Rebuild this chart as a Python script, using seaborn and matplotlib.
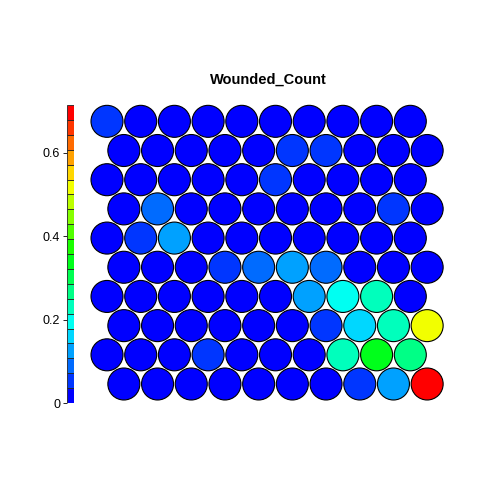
import matplotlib
matplotlib.use('Agg')
import matplotlib.pyplot as plt
import matplotlib.colors as mcolors
import seaborn as sns
import numpy as np
import pandas as pd

# SOM property values, one list per map row (top row first)
row10 = [0.05, 0, 0, 0, 0, 0, 0, 0, 0, 0]
row9 = [0, 0, 0, 0, 0, 0.05, 0.05, 0, 0, 0]
row8 = [0, 0, 0, 0, 0, 0.05, 0, 0, 0, 0]
row7 = [0, 0.09, 0, 0, 0, 0, 0, 0, 0.05, 0]
row6 = [0, 0.05, 0.12, 0, 0, 0, 0, 0, 0, 0]
row5 = [0, 0, 0, 0.05, 0.09, 0.12, 0.09, 0, 0, 0]
row4 = [0, 0, 0, 0, 0, 0, 0.12, 0.19, 0.23, 0]
row3 = [0, 0, 0, 0, 0, 0, 0.05, 0.16, 0.23, 0.51]
row2 = [0, 0, 0, 0.05, 0, 0, 0, 0.23, 0.33, 0.26]
row1 = [0, 0, 0, 0, 0, 0, 0, 0.05, 0.12, 0.714]
colorbar_ticks = [0, 0.2, 0.4, 0.6]
title = 'Wounded_Count'

n_colors = 20

# blue -> red palette (rainbow from red to blue, reversed)
hues = np.linspace(0, 4 / 6, n_colors)[::-1]
palette = [mcolors.hsv_to_rgb((h, 1, 1)) for h in hues]

rows = [row10, row9, row8, row7, row6, row5, row4, row3, row2, row1]
recs = []
for i, vals in enumerate(rows):
    r = 10 - i  # map row number, 1 = bottom
    shift = 0.5 if r % 2 == 1 else 0.0
    for c, v in enumerate(vals):
        recs.append({'x': c + 1 + shift, 'y': r * np.sqrt(3) / 2, 'value': v})
df = pd.DataFrame(recs)

zmax = df['value'].max()
binw = zmax / n_colors
df['bin'] = np.clip(np.floor(df['value'] / binw).astype(int), 0, n_colors - 1)

sns.set_style('white')
plt.rcParams['font.family'] = ['Liberation Sans', 'DejaVu Sans']
plt.rcParams['text.color'] = 'black'
plt.rcParams['ytick.color'] = 'black'

fig = plt.figure(figsize=(4.8, 4.8), dpi=100)

# map axes, px per unit ~33.7
px = 33.7
left, right, top, bottom = 88, 448, 100, 405
ax = fig.add_axes([left / 480, (480 - bottom) / 480, (right - left) / 480, (bottom - top) / 480])
ax.set_xlim(1 + (left - 107) / px, 1 + (right - 107) / px)
ax.set_ylim(np.sqrt(3) / 2 - (bottom - 384) / px, np.sqrt(3) / 2 + (384 - top) / px)

pal = {b: palette[b] for b in range(n_colors)}
diam_pt = 32 * 72 / 100
sns.scatterplot(data=df, x='x', y='y', hue='bin', palette=pal, s=diam_pt ** 2,
                edgecolor='black', linewidth=0.8, legend=False, ax=ax)
ax.set_axis_off()

fig.text(268 / 480, 1 - 80 / 480, title, ha='center', va='center',
         fontsize=10.5, fontweight='bold', color='black')

# colour key
cb_top, cb_bot = 105, 403
cax = fig.add_axes([67 / 480, (480 - cb_bot) / 480, 7 / 480, (cb_bot - cb_top) / 480])
edges = np.linspace(0, zmax, n_colors + 1)
for k in range(n_colors):
    cax.bar(0.5, edges[k + 1] - edges[k], bottom=edges[k], width=1,
            color=palette[k], edgecolor='#222222', linewidth=0.6)
cax.set_xlim(0, 1)
cax.set_ylim(0, zmax)
cax.set_xticks([])
cax.set_yticks(colorbar_ticks)
cax.set_yticklabels(['0', '0.2', '0.4', '0.6'])
cax.tick_params(axis='y', left=True, length=3, width=0.6, labelsize=9, pad=2,
                colors='black')
for s in cax.spines.values():
    s.set_visible(False)

fig.savefig('out.png', dpi=100)
